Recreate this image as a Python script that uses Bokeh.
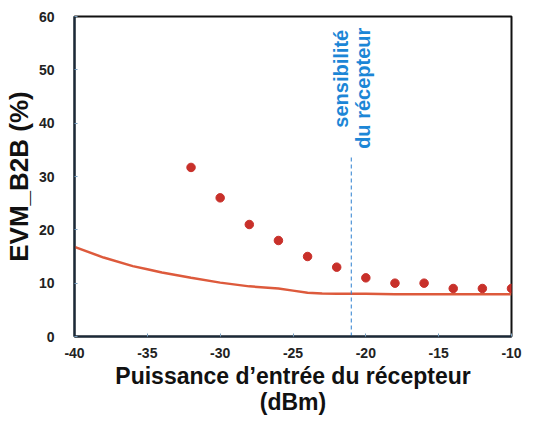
import numpy as np
from bokeh.plotting import figure
from bokeh.models import Range1d, FixedTicker
from bokeh.core.properties import value
from bokeh.embed import file_html
from bokeh.resources import INLINE

# measured points
meas_x = [-32, -30, -28, -26, -24, -22, -20, -18, -16, -14, -12, -10]
meas_y = [31.7, 26, 21, 18, 15, 13, 11, 10, 10, 9, 9, 9]

# fitted curve
curve_x = [-40, -38, -36, -35, -34, -32, -30, -28, -26, -25, -24, -23, -22, -20, -18, -15, -12, -10]
curve_y = [16.8, 14.8, 13.2, 12.6, 12.0, 11.0, 10.1, 9.4, 9.0, 8.6, 8.2, 8.05, 8.0, 8.0, 7.9, 7.9, 7.9, 7.9]

sens_x = -21
sens_top = 33.6
sens_labels = ["sensibilité", "du récepteur"]
sens_label_x = [-21.7, -20.2]

x_ticks = [-40, -35, -30, -25, -20, -15, -10]
x_tick_labels = ["-40", "-35", "-30", "-25", "-20", "-15", "-10"]
y_ticks = [0, 10, 20, 30, 40, 50, 60]

FONT = "Liberation Sans"

p = figure(width=539, height=418, output_backend="svg", toolbar_location=None,
           x_range=Range1d(-40, -10), y_range=Range1d(0, 60),
           min_border_left=71, min_border_right=28, min_border_top=16, min_border_bottom=82)
p.grid.visible = False
p.background_fill_color = "white"
p.border_fill_color = "white"
p.outline_line_color = "#111111"
p.outline_line_width = 2

p.line(curve_x, curve_y, line_color="#DD5A3C", line_width=2.5)
p.scatter(meas_x, meas_y, marker="circle", size=8.5, fill_color="#C8302A", line_color="#C8302A")

p.segment(x0=[sens_x], y0=[0], x1=[sens_x], y1=[sens_top], line_color="#2B7FCF",
          line_width=1, line_dash="4 3")
p.text(x=sens_label_x, y=[57.5, 57.9], text=sens_labels, angle=np.pi / 2,
       text_align="right", text_baseline="middle", text_color="#1C86D6",
       text_font=value(FONT), text_font_style="bold", text_font_size="20px")

for ax in (p.xaxis[0], p.yaxis[0]):
    ax.axis_line_color = "#1a2a3a"
    ax.axis_line_width = 2
    ax.major_tick_in = 3
    ax.major_tick_out = 0
    ax.major_tick_line_color = "#7aa0c0"
    ax.minor_tick_line_color = None
    ax.major_label_text_font = FONT
    ax.major_label_text_font_style = "bold"
    ax.major_label_text_font_size = "14px"
    ax.major_label_text_color = "#222222"
    ax.axis_label_text_font = FONT
    ax.axis_label_text_font_style = "bold"
    ax.axis_label_text_color = "#111111"

p.xaxis.ticker = FixedTicker(ticks=x_ticks)
p.xaxis.major_label_overrides = {t: s for t, s in zip(x_ticks, x_tick_labels)}
p.yaxis.ticker = FixedTicker(ticks=y_ticks)
p.xaxis.major_label_standoff = 11
p.yaxis.major_label_standoff = 20

p.yaxis.axis_label = "EVM_B2B (%)"
p.yaxis.axis_label_text_font_size = "26px"
p.yaxis.axis_label_standoff = 2

p.xaxis.axis_label = "Puissance d\u2019entrée du récepteur\n(dBm)"
p.xaxis.axis_label_text_font_size = "23px"
p.xaxis.axis_label_standoff = 2
p.xaxis.axis_label_text_line_height = 1.0

open("out.html", "w").write(file_html(p, INLINE))
